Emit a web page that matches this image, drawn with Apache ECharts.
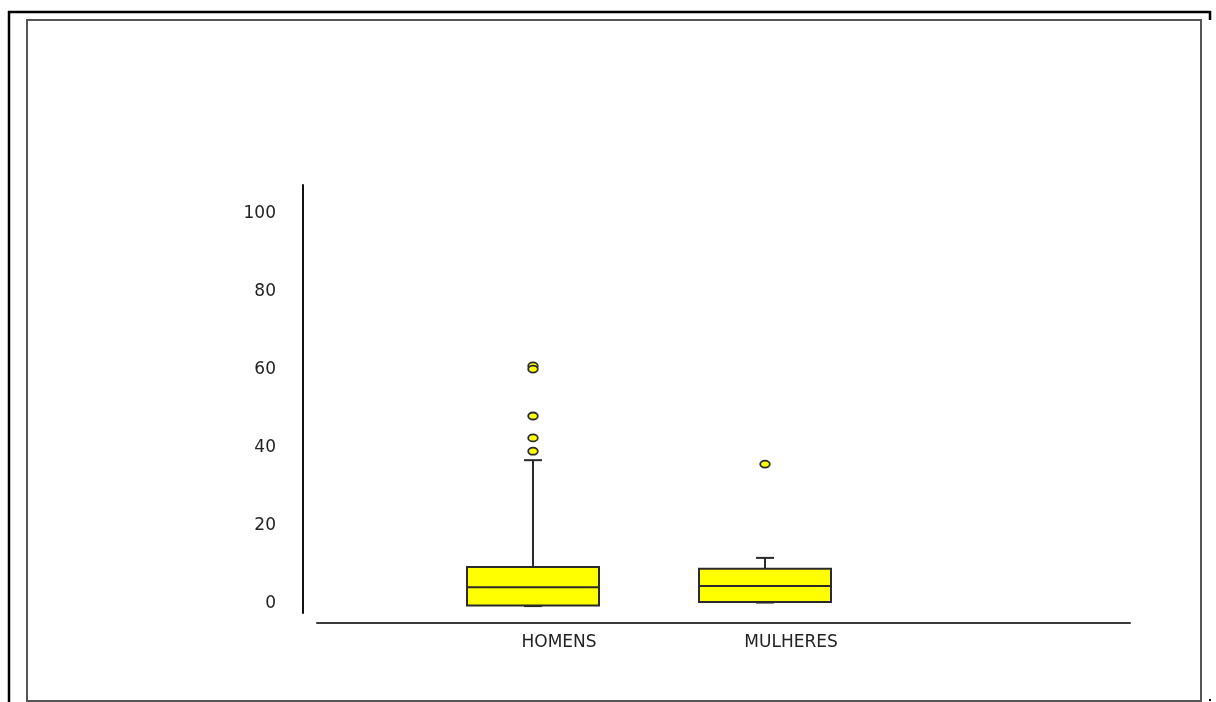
<!DOCTYPE html>
<html>
<head>
<meta charset="utf-8">
<script src="https://cdn.jsdelivr.net/npm/echarts@6/dist/echarts.min.js"></script>
<style>
  html, body { margin: 0; padding: 0; background: #fff; }
  #chart { width: 1216px; height: 702px; }
</style>
</head>
<body>
<div id="chart"></div>
<script>
// ---- data ----
const categories = ['HOMENS', 'MULHERES'];
const categoryIndex = [1, 2];
const mins    = [-0.4, 0.5];
const q1s     = [-0.4, 0.5];
const medians = [4.3, 4.6];
const q3s     = [9.5, 9.0];
const maxs    = [36.8, 11.8];
const outliersHomens   = [60.9, 60.1, 48.1, 42.5, 39.1];
const outliersMulheres = [35.8];
const yTicks = [0, 20, 40, 60, 80, 100];

// ---- build series data ----
const boxData = categories.map((c, i) => [categoryIndex[i], mins[i], q1s[i], medians[i], q3s[i], maxs[i]]);
const outlierData = []
  .concat(outliersHomens.map(v => [categoryIndex[0], v]))
  .concat(outliersMulheres.map(v => [categoryIndex[1], v]));

const YELLOW = '#ffff00';
const EDGE = '#2a2a2a';
const BOX_HALF = 66;
const CAP_HALF = 9;

const chart = echarts.init(document.getElementById('chart'), null, { renderer: 'canvas' });

chart.setOption({
  animation: false,
  backgroundColor: '#ffffff',
  grid: { left: 317, right: 86, top: 185, bottom: 89, containLabel: false },
  xAxis: {
    type: 'value',
    min: 0.069,
    max: 3.573,
    offset: 10,
    splitLine: { show: false },
    axisTick: { show: false },
    axisLine: { show: true, onZero: false, lineStyle: { color: '#3a3a3a', width: 2 } },
    axisLabel: {
      customValues: categoryIndex,
      formatter: function (v) {
        const i = categoryIndex.indexOf(Math.round(v));
        return i >= 0 ? categories[i] : '';
      },
      fontFamily: 'DejaVu Sans',
      fontSize: 17,
      color: '#222',
      margin: 11,
      align: 'center',
      padding: [0, 0, 0, 52]
    }
  },
  yAxis: {
    type: 'value',
    min: -2.3,
    max: 107.2,
    offset: 14,
    splitLine: { show: false },
    axisTick: { show: false },
    axisLine: { show: true, onZero: false, lineStyle: { color: '#111', width: 2 } },
    axisLabel: {
      customValues: yTicks,
      fontFamily: 'DejaVu Sans',
      fontSize: 17,
      color: '#222',
      margin: 27
    }
  },
  graphic: [
    { type: 'rect', shape: { x: 27, y: 20, width: 1174, height: 681 }, style: { fill: null, stroke: '#555', lineWidth: 2 }, silent: true },
    { type: 'line', shape: { x1: 8, y1: 12, x2: 1211, y2: 12 }, style: { stroke: '#000', lineWidth: 2.5 }, silent: true },
    { type: 'line', shape: { x1: 9, y1: 11, x2: 9, y2: 702 }, style: { stroke: '#000', lineWidth: 2.5 }, silent: true },
    { type: 'line', shape: { x1: 1210, y1: 11, x2: 1210, y2: 20 }, style: { stroke: '#000', lineWidth: 2.5 }, silent: true },
    { type: 'rect', shape: { x: 1209, y: 699, width: 2, height: 2 }, style: { fill: '#000' }, silent: true }
  ],
  series: [
    {
      type: 'custom',
      name: 'box',
      data: boxData,
      encode: { x: 0, y: [1, 2, 3, 4, 5] },
      renderItem: function (params, api) {
        const x = api.value(0);
        const lo = api.coord([x, api.value(1)]);
        const q1 = api.coord([x, api.value(2)]);
        const md = api.coord([x, api.value(3)]);
        const q3 = api.coord([x, api.value(4)]);
        const hi = api.coord([x, api.value(5)]);
        const cx = Math.round(q1[0]);
        const ls = { stroke: EDGE, lineWidth: 2 };
        return {
          type: 'group',
          children: [
            { type: 'line', shape: { x1: cx, y1: q3[1], x2: cx, y2: hi[1] }, style: ls },
            { type: 'line', shape: { x1: cx - CAP_HALF, y1: hi[1], x2: cx + CAP_HALF, y2: hi[1] }, style: ls },
            { type: 'line', shape: { x1: cx, y1: q1[1], x2: cx, y2: lo[1] }, style: ls },
            { type: 'line', shape: { x1: cx - CAP_HALF, y1: lo[1], x2: cx + CAP_HALF, y2: lo[1] }, style: { stroke: EDGE, lineWidth: 3 } },
            { type: 'rect', shape: { x: cx - BOX_HALF, y: q3[1], width: BOX_HALF * 2, height: q1[1] - q3[1] },
              style: { fill: YELLOW, stroke: EDGE, lineWidth: 2 } },
            { type: 'line', shape: { x1: cx - BOX_HALF, y1: md[1], x2: cx + BOX_HALF, y2: md[1] }, style: ls }
          ]
        };
      }
    },
    {
      type: 'custom',
      name: 'outliers',
      data: outlierData,
      encode: { x: 0, y: 1 },
      renderItem: function (params, api) {
        const p = api.coord([api.value(0), api.value(1)]);
        return {
          type: 'ellipse',
          shape: { cx: Math.round(p[0]), cy: p[1], rx: 4.8, ry: 3.5 },
          style: { fill: YELLOW, stroke: EDGE, lineWidth: 1.8 }
        };
      }
    }
  ]
});
</script>
</body>
</html>
